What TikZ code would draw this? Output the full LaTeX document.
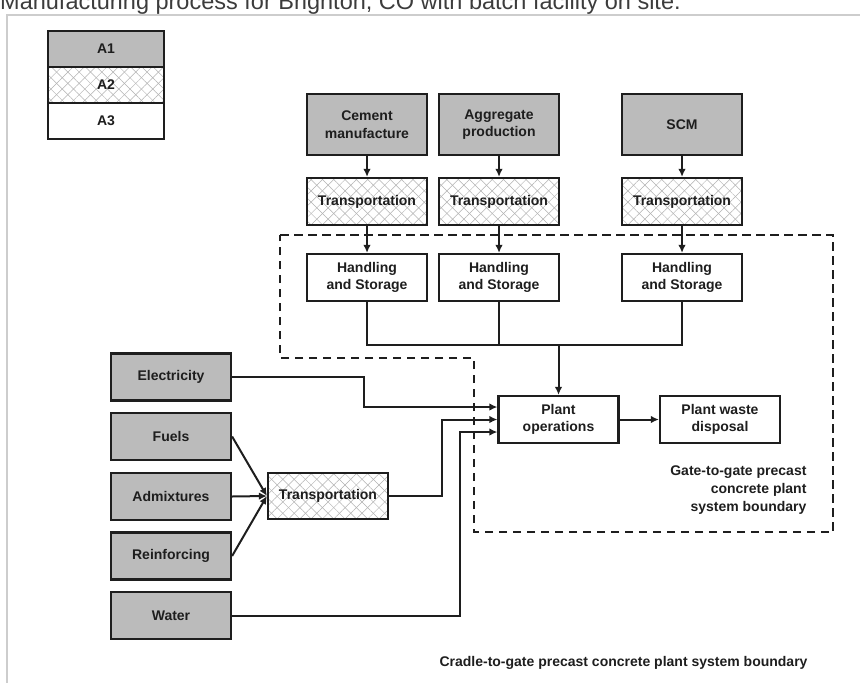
\documentclass[tikz,border=0pt]{standalone}
\usepackage{fontspec}
\setmainfont{Liberation Sans}
\usepackage{xcolor}
\usetikzlibrary{arrows.meta, patterns.meta}

\definecolor{phaseone}{RGB}{187,187,187}
\definecolor{captiongray}{RGB}{60,60,60}
\definecolor{framegray}{RGB}{205,205,205}
\definecolor{inkgray}{RGB}{30,30,30}

\tikzset{
    box/.style={draw=inkgray, line width=2.2pt, minimum width=120pt, minimum height=47pt,
        inner sep=2pt, align=center, text=inkgray, font=\bfseries\fontsize{14}{17.5}\selectfont},
    aone/.style={box, fill=phaseone},
    atwo/.style={box,
        preaction={fill=white},
        preaction={pattern={Lines[angle=45, distance=8pt, line width=0.5pt]}, pattern color=gray!60},
        preaction={pattern={Lines[angle=-45, distance=8pt, line width=0.5pt]}, pattern color=gray!60}},
    athree/.style={box, fill=white},
    flow/.style={draw=inkgray, line width=2pt, -{Latex[length=8pt, width=7.5pt]}},
    link/.style={draw=inkgray, line width=2pt},
    boundary/.style={draw=inkgray, line width=2pt, dash pattern=on 8.5pt off 5.5pt},
}

\begin{document}
\begin{tikzpicture}[x=1pt, y=-1pt]
    \useasboundingbox (0,0) rectangle (860,683);
    \clip (0,0) rectangle (860,683);

    \node[anchor=base west, inner xsep=0pt, text=captiongray, font=\fontsize{23.5}{28}\selectfont] (caption) at (0,9)
        {Manufacturing process for Brighton, CO with batch facility on site.};
    \draw[framegray, line width=2pt] (7,700) -- (7,15) -- (880,15);

    % legend
    \node[aone, minimum width=116pt, minimum height=36pt] (legA1) at (106,49) {A1};
    \node[atwo, minimum width=116pt, minimum height=36pt] (legA2) at (106,85) {A2};
    \node[athree, minimum width=116pt, minimum height=36pt] (legA3) at (106,121) {A3};

    % gate-to-gate boundary
    \draw[boundary] (280,235) -- (833,235) -- (833,532) -- (474,532) -- (474,358) -- (280,358) -- cycle;

    % raw materials
    \node[aone, minimum height=61pt] (cement) at (367,124.5) {Cement\\manufacture};
    \node[aone, minimum height=61pt] (aggregate) at (499,124.5) {Aggregate\\production};
    \node[aone, minimum height=61pt] (scm) at (682,124.5) {SCM};

    \foreach \src/\x [count=\i] in {cement/367, aggregate/499, scm/682} {
        \node[atwo] (trans\i) at (\x,201.5) {Transportation};
        \node[athree] (store\i) at (\x,277.5) {Handling\\and Storage};
        \draw[flow] (\src) -- (trans\i);
        \draw[flow] (trans\i) -- (store\i);
    };

    \node[athree] (plant) at (558.5,419.5) {Plant\\operations};
    \node[athree] (waste) at (720,419.5) {Plant waste\\disposal};
    \coordinate (merge) at (558.5,345);

    \draw[link] (store1.south) |- (merge);
    \draw[link] (store3.south) |- (merge);
    \draw[link] (store2.south) -- (store2.south |- merge);
    \draw[flow] (merge) -- (plant);
    \draw[flow] (plant) -- (waste);

    % other inputs
    \node[aone] (electricity) at (171,377) {Electricity};
    \node[aone] (fuels) at (171,436.5) {Fuels};
    \node[aone] (admixtures) at (171,496.5) {Admixtures};
    \node[aone] (reinforcing) at (171,556) {Reinforcing};
    \node[aone] (water) at (171,615.5) {Water};
    \node[atwo, minimum height=46pt] (transL) at (328,496) {Transportation};

    \foreach \src in {fuels, admixtures, reinforcing}
        \draw[flow] (\src.east) -- (transL.west);

    \draw[flow] (electricity.east) -- ++(132,0) |- ([yshift=12.5pt]plant.west);
    \draw[flow] (transL.east) -- ++(53,0) |- (plant.west);
    \draw[flow] (water.east) -- ++(228,0) |- ([yshift=-12.5pt]plant.west);

    \node[anchor=east, align=right, text=inkgray, font=\bfseries\fontsize{14}{18}\selectfont] (gatelabel) at (810,490)
        {Gate-to-gate precast\\concrete plant\\system boundary};
    \node[anchor=west, text=inkgray, font=\bfseries\fontsize{14}{17}\selectfont] (cradlelabel) at (436,663)
        {Cradle-to-gate precast concrete plant system boundary};
\end{tikzpicture}
\end{document}
